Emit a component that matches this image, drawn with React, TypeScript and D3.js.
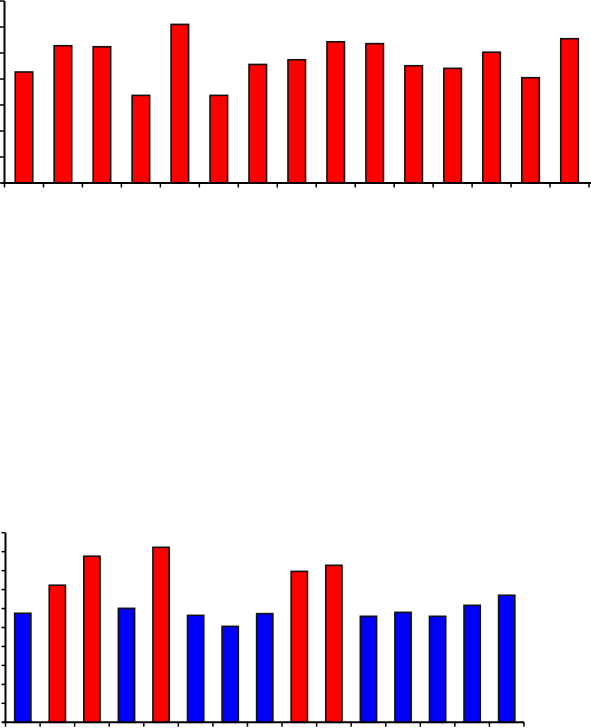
import React from "react";
import * as d3 from "d3";

const topCategories = d3.range(1, 16).map((i) => `T${i}`);
const topValues = [4.27, 5.28, 5.24, 3.37, 6.1, 3.37, 4.56, 4.74, 5.43, 5.36, 4.51, 4.41, 5.03, 4.05, 5.55];
const topTicks = [0, 1, 2, 3, 4, 5, 6, 7];

const bottomCategories = d3.range(1, 16).map((i) => `B${i}`);
const bottomValues = [5.75, 7.23, 8.76, 6.01, 9.23, 5.64, 5.06, 5.73, 7.96, 8.28, 5.59, 5.8, 5.59, 6.17, 6.7];
const bottomGroups = ["b", "r", "r", "b", "r", "b", "b", "b", "r", "r", "b", "b", "b", "b", "b"];
const bottomTicks = [0, 1, 2, 3, 4, 5, 6, 7, 8, 9, 10];

const colorMap: Record<string, string> = { r: "#ff0000", b: "#0000ff" };

type PanelProps = {
  cats: string[];
  values: number[];
  colors: string[];
  ticks: number[];
  x0: number;
  x1: number;
  yBase: number;
  yTop: number;
  axisEnd: number;
  barFrac: number;
  yTickLen: number;
};

function Panel({ cats, values, colors, ticks, x0, x1, yBase, yTop, axisEnd, barFrac, yTickLen }: PanelProps) {
  const x = d3.scaleBand<string>().domain(cats).range([x0, x1]).padding(0);
  const y = d3.scaleLinear().domain([0, d3.max(ticks) as number]).range([yBase, yTop]);
  const bw = x.bandwidth() * barFrac;
  const boundaries = cats.map((c) => x(c) as number).concat([x1]);
  return (
    <g>
      {cats.map((c, i) => {
        const cx = (x(c) as number) + x.bandwidth() / 2;
        return (
          <rect
            key={c}
            x={cx - bw / 2}
            y={y(values[i])}
            width={bw}
            height={y(0) - y(values[i])}
            fill={colors[i]}
            stroke="#111"
            strokeWidth={1.6}
          />
        );
      })}
      <line x1={x0} x2={x0} y1={yTop} y2={yBase} stroke="#000" strokeWidth={2} />
      {ticks.map((t) => (
        <line key={t} x1={x0 - yTickLen} x2={x0} y1={y(t)} y2={y(t)} stroke="#000" strokeWidth={1.5} />
      ))}
      <line x1={x0 - 3} x2={axisEnd} y1={yBase} y2={yBase} stroke="#000" strokeWidth={2} />
      {boundaries.map((bx, i) => (
        <line key={i} x1={bx} x2={bx} y1={yBase} y2={yBase + 4.5} stroke="#000" strokeWidth={1.5} />
      ))}
    </g>
  );
}

export default function App() {
  return (
    <svg
      width={591}
      height={728}
      style={{ position: "absolute", left: 0, top: 0, background: "#fff" }}
    >
      <rect width={591} height={728} fill="#fff" />
      <Panel
        cats={topCategories}
        values={topValues}
        colors={topCategories.map(() => colorMap.r)}
        ticks={topTicks}
        x0={4.5}
        x1={589}
        yBase={183}
        yTop={1}
        axisEnd={591}
        barFrac={0.45}
        yTickLen={5}
      />
      <Panel
        cats={bottomCategories}
        values={bottomValues}
        colors={bottomGroups.map((g) => colorMap[g])}
        ticks={bottomTicks}
        x0={5.5}
        x1={524}
        yBase={722.3}
        yTop={532.7}
        axisEnd={524}
        barFrac={0.47}
        yTickLen={4}
      />
    </svg>
  );
}
